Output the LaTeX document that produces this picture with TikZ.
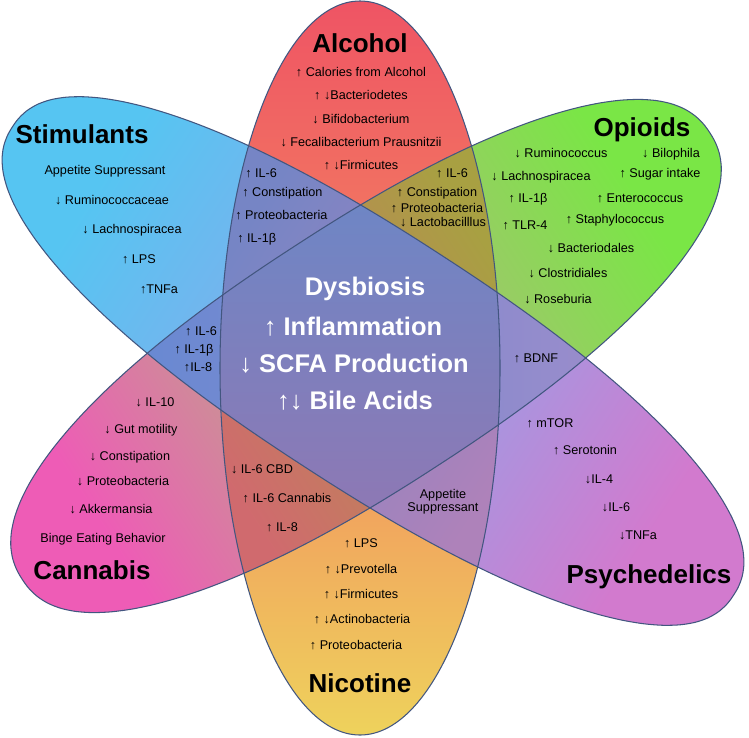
\documentclass[tikz,border=0pt]{standalone}
\usepackage{fontspec}
\setmainfont{Liberation Sans}

%% petal colours
\definecolor{alcred}{RGB}{239,84,100}
\definecolor{alcmid}{RGB}{243,137,96}
\definecolor{nicyel}{RGB}{238,210,92}
\definecolor{stimblue}{RGB}{86,197,242}
\definecolor{stimmid}{RGB}{142,166,234}
\definecolor{psypink}{RGB}{210,122,206}
\definecolor{opigreen}{RGB}{122,230,70}
\definecolor{opimid}{RGB}{178,182,126}
\definecolor{canpink}{RGB}{238,92,182}
%% overlap colours
\definecolor{alcstim}{RGB}{118,133,197}
\definecolor{nicpsy}{RGB}{174,130,186}
\definecolor{nican}{RGB}{208,106,110}
\definecolor{alcopi}{RGB}{168,160,66}
\definecolor{stimcan}{RGB}{104,137,210}
\definecolor{opipsy}{RGB}{154,140,203}
\definecolor{coretop}{RGB}{110,134,197}
\definecolor{corebot}{RGB}{142,120,180}
\definecolor{rim}{RGB}{66,86,128}

%% the three petals, pixel units, y downwards
\def\petalV{(360,368) ellipse [x radius=140, y radius=367]}
\def\petalS{[shift={(373,361)}, rotate=-33]
  plot[domain=2.5:357.5, samples=72, smooth cycle]
  ({430*cos(\x)*abs(cos(\x))^(-0.12)}, {126*sin(\x)*abs(sin(\x))^(-0.12)})}
\def\petalO{[shift={(366,356)}, rotate=33]
  plot[domain=2.5:357.5, samples=72, smooth cycle]
  ({410*cos(\x)*abs(cos(\x))^(-0.12)}, {131*sin(\x)*abs(sin(\x))^(-0.12)})}

\begin{document}
\begin{tikzpicture}[x=0.02cm, y=-0.02cm,
  lbl/.style={font=\fontsize{7.2}{8}\selectfont, anchor=base, inner sep=0pt},
  ttl/.style={font=\fontsize{14.8}{17}\selectfont\bfseries, anchor=base, inner sep=0pt},
  core/.style={font=\fontsize{14.5}{17}\selectfont\bfseries, text=white, anchor=base, inner sep=0pt},
  rimline/.style={draw=rim, line width=0.6pt}]
  \fill[white] (0,0) rectangle (749,737);
  \useasboundingbox (0,0) rectangle (749,737);

  %% Petals
  \shade[top color=alcred, bottom color=nicyel, middle color=alcmid] \petalV;
  \shade[left color=canpink, right color=opigreen, middle color=opimid, shading angle=123] \petalO;
  \shade[left color=stimblue, right color=psypink, middle color=stimmid, shading angle=57] \petalS;

  %% Overlaps
  \begin{scope}
    \clip \petalV; \clip \petalS;
    \shade[left color=alcstim, right color=nicpsy, shading angle=57] (222,140) rectangle (500,600);
  \end{scope}
  \begin{scope}
    \clip \petalV; \clip \petalO;
    \shade[left color=nican, right color=alcopi, shading angle=123] (222,140) rectangle (500,600);
  \end{scope}
  \begin{scope}
    \clip \petalS; \clip \petalO;
    \shade[left color=stimcan, right color=opipsy] (140,180) rectangle (600,540);
  \end{scope}
  \begin{scope}
    \clip \petalV; \clip \petalS; \clip \petalO;
    \shade[top color=coretop, bottom color=corebot] (215,200) rectangle (505,515);
  \end{scope}

  %% Outlines
  \draw[rimline] \petalV;
  \draw[rimline] \petalO;
  \draw[rimline] \petalS;

  %% Titles
  \node[ttl] (alcohol) at (360,52) {Alcohol};
  \node[ttl] (stimulants) at (82,143) {Stimulants};
  \node[ttl] (opioids) at (642,136) {Opioids};
  \node[ttl] (cannabis) at (92,579) {Cannabis};
  \node[ttl] (nicotine) at (360,692) {Nicotine};
  \node[ttl] (psychedelics) at (649,583) {Psychedelics};

  %% Alcohol
  \foreach \x/\y/\txt [count=\i] in {361/76/{↑ Calories from Alcohol}, 361/99.5/{↑ ↓Bacteriodetes},
      361/123/{↓ Bifidobacterium}, 361/146/{↓ Fecalibacterium Prausnitzii}, 361/169/{↑ ↓Firmicutes}}
    \node[lbl] (alc\i) at (\x,\y) {\txt};
  %% Alcohol + Stimulants
  \foreach \x/\y/\txt [count=\i] in {245/177/{↑ IL-6}, 242/196/{↑ Constipation},
      235/219/{↑ Proteobacteria}, 237/242/{↑ IL-1β}}
    \node[lbl, anchor=base west] (alcstim\i) at (\x,\y) {\txt};
  %% Alcohol + Opioids
  \foreach \x/\y/\txt [count=\i] in {452/177/{↑ IL-6}, 437/196/{↑ Constipation},
      437/212/{↑ Proteobacteria}, 443/226/{↓ Lactobacilllus}}
    \node[lbl] (alcopi\i) at (\x,\y) {\txt};

  %% Stimulants
  \foreach \x/\y/\txt [count=\i] in {105/174/{Appetite Suppressant}, 112/204/{↓ Ruminococcaceae},
      132/233/{↓ Lachnospiracea}, 139/263/{↑ LPS}, 159/293/{↑TNFa}}
    \node[lbl] (stim\i) at (\x,\y) {\txt};

  %% Opioids
  \foreach \x/\y/\txt [count=\i] in {561/157/{↓ Ruminococcus}, 671/157/{↓ Bilophila},
      541/180/{↓ Lachnospiracea}, 660/177/{↑ Sugar intake}, 528/202/{↑ IL-1β},
      640/202/{↑ Enterococcus}, 525/229/{↑ TLR-4}, 615/223/{↑ Staphylococcus},
      591/252/{↓ Bacteriodales}, 568/277/{↓ Clostridiales}, 558/303/{↓ Roseburia}}
    \node[lbl] (opi\i) at (\x,\y) {\txt};

  %% Shared by all
  \node[core] (dys) at (365,295) {Dysbiosis};
  \node[core] (infl) at (353,335) {↑ Inflammation};
  \node[core] (scfa) at (354,372) {↓ SCFA Production};
  \node[core] (bile) at (355,409) {↑↓ Bile Acids};

  %% Stimulants + Cannabis, Opioids + Psychedelics
  \foreach \x/\y/\txt [count=\i] in {201/335/{↑ IL-6}, 194/353/{↑ IL-1β}, 198/371/{↑IL-8}}
    \node[lbl] (stimcan\i) at (\x,\y) {\txt};
  \node[lbl] (bdnf) at (536,362) {↑ BDNF};

  %% Cannabis
  \foreach \x/\y/\txt [count=\i] in {155/406/{↓ IL-10}, 141/433/{↓ Gut motility},
      130/460/{↓ Constipation}, 123/485/{↓ Proteobacteria}, 111/513/{↓ Akkermansia},
      103/542/{Binge Eating Behavior}}
    \node[lbl] (can\i) at (\x,\y) {\txt};
  %% Cannabis + Nicotine
  \foreach \x/\y/\txt [count=\i] in {262/473/{↓ IL-6 CBD}, 287/502/{↑ IL-6 Cannabis}, 282/531/{↑ IL-8}}
    \node[lbl] (nican\i) at (\x,\y) {\txt};
  %% Psychedelics + Nicotine
  \node[lbl, anchor=center, align=center, font=\fontsize{7.2}{6.4}\selectfont] (nicpsy) at (443,502)
    {Appetite\\Suppressant};

  %% Nicotine
  \foreach \x/\y/\txt [count=\i] in {361/547/{↑ LPS}, 361/573/{↑ ↓Prevotella}, 361/598/{↑ ↓Firmicutes},
      362/623/{↑ ↓Actinobacteria}, 356/649/{↑ Proteobacteria}}
    \node[lbl] (nic\i) at (\x,\y) {\txt};

  %% Psychedelics
  \foreach \x/\y/\txt [count=\i] in {550/427/{↑ mTOR}, 585/454/{↑ Serotonin}, 599/483/{↓IL-4},
      616/511/{↓IL-6}, 638/539/{↓TNFa}}
    \node[lbl] (psy\i) at (\x,\y) {\txt};
\end{tikzpicture}
\end{document}
